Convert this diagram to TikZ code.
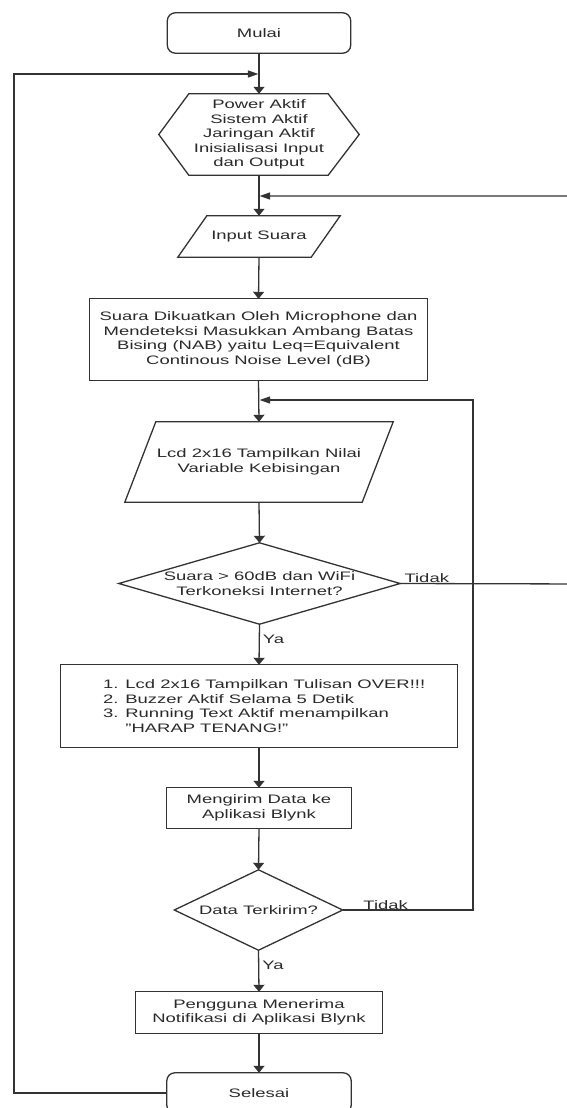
\documentclass[tikz,border=0pt]{standalone}
\usepackage{fontspec}
\setmainfont{Liberation Sans}[FakeStretch=1.5]
\usetikzlibrary{arrows.meta}
\definecolor{linec}{HTML}{333333}
\definecolor{textc}{HTML}{2A2A2A}
\begin{document}
\begin{tikzpicture}[x=1pt,y=-1pt,
  box/.style={rectangle,inner sep=0pt,align=center,text=textc,
    font=\fontsize{12.3}{14.5}\selectfont},
  lbl/.style={inner sep=0pt,text=textc,font=\fontsize{12.3}{14.5}\selectfont},
  outline/.style={draw=linec,line width=1.3pt,line join=miter},
  conn/.style={draw=linec,line width=1.3pt},
  varr/.style={conn,-{Triangle[length=7pt,width=11pt]}},
  harr/.style={conn,-{Triangle[length=10.5pt,width=7pt]}}]
\clip (0,0) rectangle (567,1108);
\fill[white] (0,0) rectangle (567,1108);

% nodes
\node[box,minimum width=183pt,minimum height=40pt] (mulai) at (259,33) {Mulai};
\node[box,minimum width=200pt,minimum height=81pt] (hex) at (259,134.5)
  {Power Aktif\\Sistem Aktif\\Jaringan Aktif\\Inisialisasi Input\\dan Output};
\node[box,minimum width=162pt,minimum height=41pt] (input) at (259,236.5) {Input Suara};
\node[box,minimum width=337pt,minimum height=81pt] (proc1) at (258.5,339.5)
  {Suara Dikuatkan Oleh Microphone dan\\Mendeteksi Masukkan Ambang Batas\\Bising (NAB) yaitu Leq=Equivalent\\Continous Noise Level (dB)};
\node[box,minimum width=268pt,minimum height=80pt] (lcd) at (259,462)
  {Lcd 2x16 Tampilkan Nilai\\Variable Kebisingan};
\node[box,minimum width=281pt,minimum height=81pt] (dec1) at (259.5,583.5)
  {Suara > 60dB dan WiFi\\Terkoneksi Internet?};
\node[box,minimum width=396pt,minimum height=82pt] (proc2) at (259,706) {};
\node[lbl,align=left,anchor=west] (proc2txt) at (103,706)
  {1. Lcd 2x16 Tampilkan Tulisan OVER!!!\\2. Buzzer Aktif Selama 5 Detik\\3. Running Text Aktif menampilkan\\\phantom{3. }"HARAP TENANG!"};
\node[box,minimum width=184pt,minimum height=40pt] (kirim) at (259,808)
  {Mengirim Data ke\\Aplikasi Blynk};
\node[box,minimum width=168pt,minimum height=80pt] (dec2) at (258.5,910) {Data Terkirim?};
\node[box,minimum width=246pt,minimum height=41pt] (notif) at (259,1012.5)
  {Pengguna Menerima\\Notifikasi di Aplikasi Blynk};
\node[box,minimum width=184pt,minimum height=40pt] (selesai) at (259,1093) {Selesai};

% outlines
\draw[outline,rounded corners=8pt] (mulai.north west) rectangle (mulai.south east);
\draw[outline] (hex.west) -- ([xshift=30pt]hex.north west) -- ([xshift=-31pt]hex.north east)
  -- (hex.east) -- ([xshift=-31pt]hex.south east) -- ([xshift=30pt]hex.south west) -- cycle;
\draw[outline] ([xshift=29pt]input.north west) -- (input.north east)
  -- ([xshift=-29pt]input.south east) -- (input.south west) -- cycle;
\draw[outline] (proc1.north west) rectangle (proc1.south east);
\draw[outline] ([xshift=31pt]lcd.north west) -- (lcd.north east)
  -- ([xshift=-31pt]lcd.south east) -- (lcd.south west) -- cycle;
\draw[outline] (dec1.north) -- (dec1.east) -- (dec1.south) -- (dec1.west) -- cycle;
\draw[outline] (proc2.north west) rectangle (proc2.south east);
\draw[outline] (kirim.north west) rectangle (kirim.south east);
\draw[outline] (dec2.north) -- (dec2.east) -- (dec2.south) -- (dec2.west) -- cycle;
\draw[outline] (notif.north west) rectangle (notif.south east);
\draw[outline,rounded corners=8pt] (selesai.north west) rectangle (selesai.south east);

% connectors
\coordinate (j1) at (259,74);
\coordinate (j2) at (259,196);
\coordinate (j3) at (259,400);
\draw[varr] (mulai.south) -- (hex.north);
\draw[varr] (hex.south) -- (input.north);
\draw[varr] (input.south) -- (proc1.north);
\draw[varr] (proc1.south) -- (lcd.north);
\draw[varr] (lcd.south) -- (dec1.north);
\draw[varr] (dec1.south) -- node[lbl,anchor=west,xshift=3pt,yshift=5pt]{Ya} (proc2.north);
\draw[varr] (proc2.south) -- (kirim.north);
\draw[varr] (kirim.south) -- (dec2.north);
\draw[varr] (dec2.south) -- node[lbl,anchor=west,xshift=3pt,yshift=6pt]{Ya} (notif.north);
\draw[varr] (notif.south) -- (selesai.north);

\draw[harr] (selesai.west) -- (14,1093) -- (14,74) -- ([xshift=-0.6pt]j1);
\draw[harr] (dec1.east) -- node[lbl,pos=0.14,anchor=south]{Tidak} (590,584) -- (590,196) -- ([xshift=0.6pt]j2);
\draw[harr] (dec2.east) -- node[lbl,pos=0.33,anchor=south]{Tidak} (473,910) -- (473,400) -- ([xshift=0.6pt]j3);
\end{tikzpicture}
\end{document}
